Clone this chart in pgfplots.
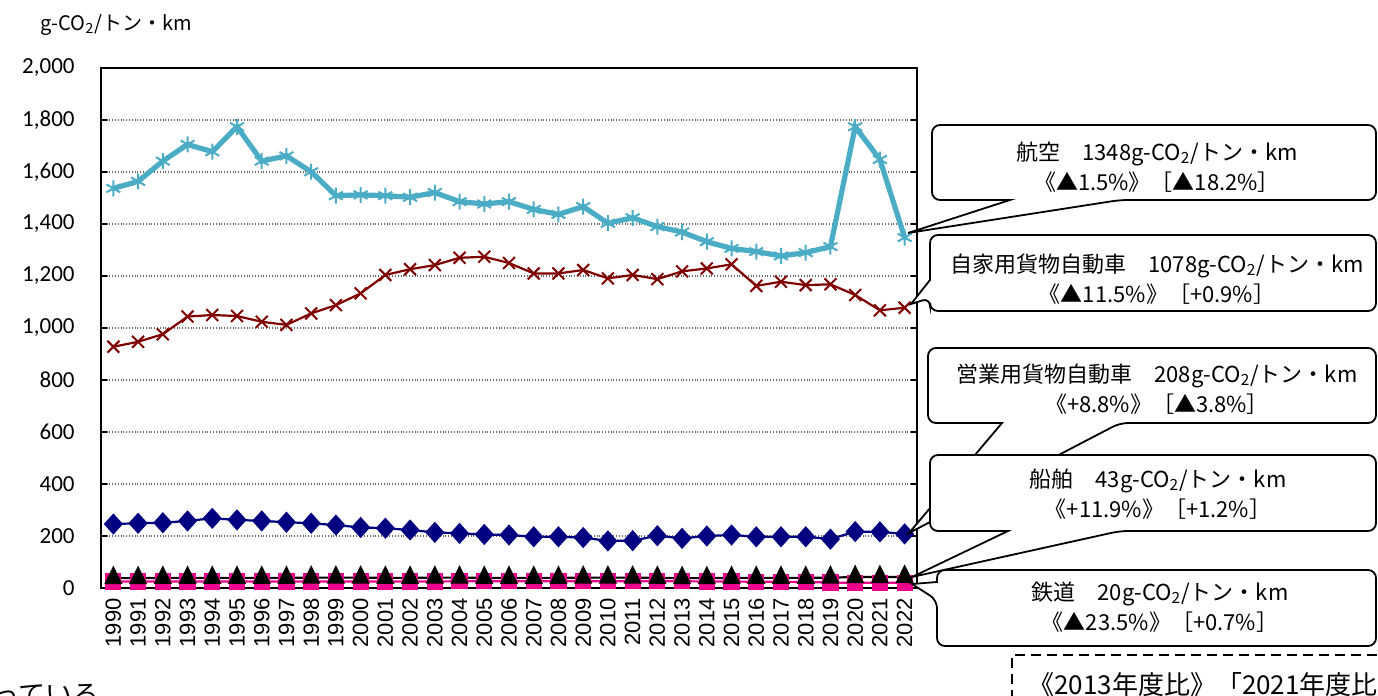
\documentclass[border=0pt]{standalone}
\usepackage{fontspec}
\setmainfont{Carlito}
\newfontfamily\jp{Noto Sans CJK JP}
\newfontfamily\arialf{Liberation Sans}
\usepackage{pgfplots}
\pgfplotsset{compat=1.18}
\usepackage{pgfplotstable}
\pgfplotstableread{
idx air priv comm ship rail
0 1537 928 246 38 25
1 1564 947 249 38 25
2 1642 976 251 39 25
3 1706 1044 258 39 25
4 1678 1050 268 39 25
5 1774 1046 262 39 25
6 1642 1024 258 39 25
7 1662 1012 253 39 25
8 1601 1056 249 40 25
9 1509 1088 242 40 25
10 1512 1133 233 40 25
11 1509 1204 230 39 25
12 1503 1226 223 39 25
13 1521 1242 214 40 25
14 1486 1270 210 40 26
15 1477 1274 206 39 26
16 1486 1250 204 39 26
17 1456 1210 197 39 26
18 1437 1210 197 39 26
19 1467 1223 194 40 26
20 1403 1191 181 40 26
21 1424 1204 182 40 26
22 1390 1188 201 39 26
23 1369 1218 191 38 26
24 1332 1229 200 38 25
25 1306 1245 204 39 25
26 1294 1162 197 39 24
27 1277 1178 197 39 24
28 1290 1165 197 39 23
29 1313 1168 188 40 21
30 1774 1127 217 42 20
31 1648 1068 216 42 20
32 1348 1078 208 43 20
}\datatab
\definecolor{air}{HTML}{4BACC6}
\definecolor{priv}{HTML}{800000}
\definecolor{comm}{HTML}{000080}
\begin{document}
\begin{tikzpicture}[x=0.5pt,y=-0.5pt]
\path[use as bounding box] (0,0) rectangle (1378,696);
\begin{scope}
\clip (0,0) rectangle (1378,696);
\begin{axis}[
  at={(50.5pt,-294pt)}, anchor=south west,
  scale only axis, width=408pt, height=260pt,
  xmin=-0.5, xmax=32.5, ymin=0, ymax=2000,
  xtick={0,...,32},
  xticklabel={\pgfmathtruncatemacro\yr{\tick+1990}\yr},
  x tick label style={rotate=90, anchor=east, inner sep=0pt, font=\arialf\fontsize{11}{11}\selectfont},
  xticklabel shift=5pt,
  xtick style={draw=none},
  ytick={0,200,...,2000},
  /pgf/number format/1000 sep={,},
  /pgf/number format/assume math mode=true,
  y tick label style={anchor=east, inner sep=0pt, font=\fontsize{11.5}{12}\selectfont},
  yticklabel shift=13pt,
  ytick style={draw=black, line width=0.6pt},
  major tick length=3pt,
  ymajorgrids,
  major grid style={densely dotted, black!60, line width=0.8pt},
  axis line style={black, line width=0.7pt},
]
\addplot[color=air, line width=2.6pt, mark=asterisk, mark size=4pt, mark options={line width=1pt}] table[x=idx,y=air]{\datatab};
\addplot[color=priv, line width=1.1pt, mark=x, mark size=4.2pt, mark options={line width=1pt}] table[x=idx,y=priv]{\datatab};
\addplot[color=comm, line width=1.1pt, mark=diamond*, mark size=4.5pt, mark options={xscale=1.2}] table[x=idx,y=comm]{\datatab};
\addplot[color=magenta, line width=1.1pt, mark=square*, mark size=3.5pt] table[x=idx,y=rail]{\datatab};
\addplot[color=black, line width=1.1pt, mark=triangle*, mark size=5pt, mark options={xscale=0.85}] table[x=idx,y=ship]{\datatab};
\end{axis}

\node[anchor=west, inner sep=0pt, font=\jp\fontsize{10}{10}\selectfont] at (40,25) {g-CO\textsubscript{2}/トン・km};

\tikzset{bub/.style={draw=black, fill=white, line width=0.9pt},
  btxt/.style={align=center, inner sep=0pt, font=\jp\fontsize{11}{15}\selectfont}}

% aviation
\draw[bub] (1150,125) [rounded corners=4pt] -- (1376,125) -- (1376,200) -- (1120,200) [sharp corners] -- (908,233) -- (1010,200) [rounded corners=4pt] -- (932,200) -- (932,125) -- cycle;
\node[btxt] at (1157,167) {航空　1348g-CO\textsubscript{2}/トン・km\\《▲1.5\%》［▲18.2\%］};
% private truck
\draw[bub] (1150,235) [rounded corners=4pt] -- (1376,235) -- (1376,311) -- (930,311) -- (930,298) [sharp corners] -- (911,304) -- (930,280) [rounded corners=4pt] -- (930,235) -- cycle;
\node[btxt] at (1157,279) {自家用貨物自動車　1078g-CO\textsubscript{2}/トン・km\\《▲11.5\%》［+0.9\%］};
% commercial truck
\draw[bub] (1150,348) [rounded corners=4pt] -- (1376,348) -- (1376,423) -- (1120,423) [sharp corners] -- (909,533) -- (1002,423) [rounded corners=4pt] -- (928,423) -- (928,348) -- cycle;
\node[btxt] at (1157,389) {営業用貨物自動車　208g-CO\textsubscript{2}/トン・km\\《+8.8\%》［▲3.8\%］};
% ships
\draw[bub] (1150,455) [rounded corners=4pt] -- (1376,455) -- (1376,531) -- (1120,531) [sharp corners] -- (912,577) -- (1008,531) [rounded corners=4pt] -- (930,531) -- (930,455) -- cycle;
\node[btxt] at (1158,494) {船舶　43g-CO\textsubscript{2}/トン・km\\《+11.9\%》［+1.2\%］};
% rail
\draw[bub] (1150,570) [rounded corners=4pt] -- (1376,570) -- (1376,646) -- (937,646) -- (937,600) [sharp corners] -- (912,584) -- (937,582) [rounded corners=4pt] -- (937,570) -- cycle;
\node[btxt] at (1160,607) {鉄道　20g-CO\textsubscript{2}/トン・km\\《▲23.5\%》［+0.7\%］};

% dashed note box (cut off)
\draw[dashed, line width=0.8pt, dash pattern=on 5pt off 3pt] (1012,700) -- (1012,655) -- (1390,655);
\node[anchor=west, inner sep=0pt, font=\jp\fontsize{13}{13}\selectfont] at (1028,685) {《2013年度比》「2021年度比」};

% cut-off text at bottom left
\node[anchor=east, inner sep=0pt, font=\jp\fontsize{13.5}{13.5}\selectfont] at (100,694) {となっている};
\end{scope}
\end{tikzpicture}
\end{document}
